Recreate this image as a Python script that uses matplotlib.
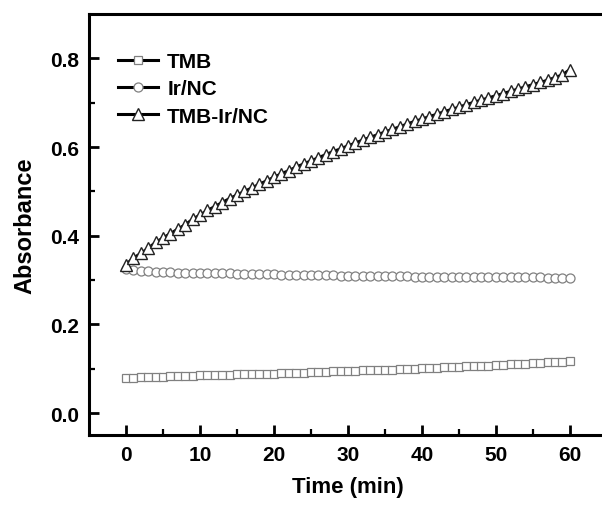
import matplotlib.pyplot as plt
import numpy as np

plt.rcParams['font.family'] = ['Liberation Sans', 'DejaVu Sans']
plt.rcParams['font.weight'] = 'bold'

time_min = list(range(61))

tmb = [0.080, 0.080, 0.081, 0.081, 0.082, 0.082, 0.083, 0.083, 0.084, 0.084,
       0.085, 0.085, 0.086, 0.086, 0.086, 0.087, 0.087, 0.088, 0.088, 0.089,
       0.089, 0.090, 0.090, 0.091, 0.091, 0.092, 0.092, 0.093, 0.094, 0.094,
       0.095, 0.095, 0.096, 0.097, 0.097, 0.098, 0.098, 0.099, 0.100, 0.100,
       0.101, 0.102, 0.102, 0.103, 0.104, 0.104, 0.105, 0.106, 0.106, 0.107,
       0.108, 0.109, 0.110, 0.110, 0.111, 0.112, 0.113, 0.114, 0.115, 0.116,
       0.118]

ir_nc = [0.325, 0.322, 0.321, 0.320, 0.319, 0.318, 0.318, 0.317, 0.317, 0.316,
         0.316, 0.316, 0.315, 0.315, 0.315, 0.314, 0.314, 0.314, 0.313, 0.313,
         0.313, 0.312, 0.312, 0.312, 0.312, 0.311, 0.311, 0.311, 0.311, 0.310,
         0.310, 0.310, 0.310, 0.310, 0.309, 0.309, 0.309, 0.309, 0.309, 0.308,
         0.308, 0.308, 0.308, 0.308, 0.308, 0.307, 0.307, 0.307, 0.307, 0.307,
         0.307, 0.306, 0.306, 0.306, 0.306, 0.306, 0.306, 0.305, 0.305, 0.305,
         0.305]

tmb_ir_nc = [0.335, 0.350, 0.360, 0.372, 0.385, 0.395, 0.405, 0.415, 0.425, 0.437,
             0.447, 0.457, 0.466, 0.475, 0.484, 0.492, 0.500, 0.508, 0.516, 0.524,
             0.532, 0.540, 0.547, 0.555, 0.562, 0.569, 0.576, 0.583, 0.590, 0.596,
             0.603, 0.609, 0.616, 0.622, 0.628, 0.634, 0.640, 0.646, 0.652, 0.658,
             0.663, 0.669, 0.674, 0.680, 0.685, 0.690, 0.696, 0.701, 0.706, 0.711,
             0.716, 0.721, 0.726, 0.731, 0.736, 0.741, 0.746, 0.751, 0.757, 0.763,
             0.775]

fig = plt.figure(figsize=(6.02, 5.06), dpi=100)
ax = fig.add_axes([0.148, 0.138, 0.860, 0.832])

ax.plot(time_min, tmb, color='black', lw=2.2, marker='s', ms=5.8,
        mfc='white', mec='#808080', mew=0.9, label='TMB')
ax.plot(time_min, ir_nc, color='black', lw=2.2, marker='o', ms=6.5,
        mfc='white', mec='#808080', mew=0.9, label='Ir/NC')
ax.plot(time_min, tmb_ir_nc, color='black', lw=2.2, marker='^', ms=8,
        mfc='white', mec='#222222', mew=1.0, label='TMB-Ir/NC')

ax.set_xlim(-5, 65)
ax.set_ylim(-0.05, 0.9)
ax.set_xticks(np.arange(0, 61, 10))
ax.set_xticks(np.arange(5, 66, 10), minor=True)
ax.set_yticks([0.0, 0.2, 0.4, 0.6, 0.8])
ax.set_yticks([0.1, 0.3, 0.5, 0.7], minor=True)
ax.yaxis.set_major_formatter(plt.FormatStrFormatter('%.1f'))

ax.tick_params(which='major', direction='in', length=7, width=2, labelsize=15, pad=7)
ax.tick_params(which='minor', direction='in', length=4, width=1.6)
for s in ax.spines.values():
    s.set_linewidth(2.2)

ax.set_xlabel('Time (min)', fontsize=16, fontweight='bold', labelpad=9)
ax.set_ylabel('Absorbance', fontsize=17, fontweight='bold', labelpad=10)

leg = ax.legend(loc='upper left', bbox_to_anchor=(0.02, 0.955), frameon=False,
                prop={'size': 15, 'weight': 'bold'}, handlelength=1.9,
                handletextpad=0.45, labelspacing=0.4)

plt.savefig('out.png', dpi=100)
